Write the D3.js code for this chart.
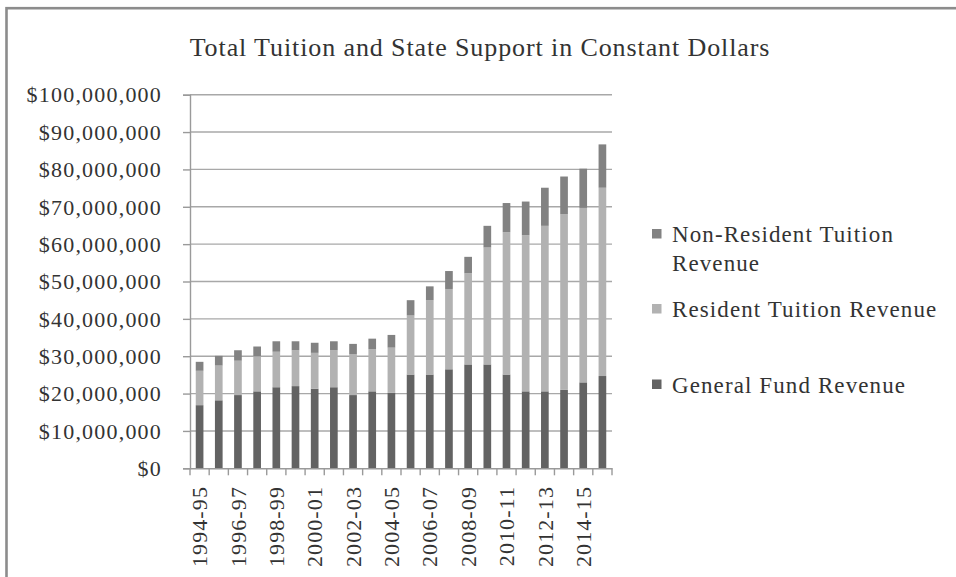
<!DOCTYPE html>
<html>
<head>
<meta charset="utf-8">
<script src="https://cdn.jsdelivr.net/npm/d3@7"></script>
<style>
  html, body { margin: 0; padding: 0; background: #fff; }
  svg { display: block; }
  text { font-family: "Liberation Serif", "Times New Roman", serif; fill: #333; }
</style>
</head>
<body>
<svg id="chart" width="956" height="577"></svg>
<script>
// Fiscal years shown on the category axis
const years = ["1994-95","1995-96","1996-97","1997-98","1998-99","1999-00","2000-01","2001-02",
  "2002-03","2003-04","2004-05","2005-06","2006-07","2007-08","2008-09","2009-10",
  "2010-11","2011-12","2012-13","2013-14","2014-15","2015-16"];

// Revenue by source, millions of constant dollars
const generalFund = [16.9,18.2,19.6,20.6,21.7,22.0,21.3,21.7,19.6,20.6,20.2,25.1,25.1,26.5,27.8,27.8,25.1,20.6,20.6,21.0,23.0,24.7];
const residentTuition = [9.2,9.3,9.2,9.4,9.5,9.6,9.6,9.9,10.9,11.3,12.1,15.8,19.9,21.5,24.4,31.3,38.1,41.8,44.3,47.0,46.7,50.4];
const nonResidentTuition = [2.4,2.6,2.8,2.6,2.8,2.4,2.7,2.4,2.8,2.8,3.4,4.1,3.7,4.8,4.4,5.8,7.8,9.0,10.2,10.1,10.5,11.6];

const yTicks = [0,10,20,30,40,50,60,70,80,90,100];

const seriesNames = ["General Fund Revenue","Resident Tuition Revenue","Non-Resident Tuition Revenue"];
const seriesColors = ["#636363","#b2b2b2","#828282"];

const svg = d3.select("#chart");

// chart frame
svg.append("rect")
  .attr("x", 6.5).attr("y", 8.2)
  .attr("width", 1000).attr("height", 1000)
  .attr("fill", "none").attr("stroke", "#8c8c8c").attr("stroke-width", 2.6);

svg.append("text")
  .attr("x", 480).attr("y", 56)
  .attr("text-anchor", "middle")
  .style("font-size", "26px").style("letter-spacing", "0.9px")
  .text("Total Tuition and State Support in Constant Dollars");

const plot = { left: 190, right: 612, top: 94.7, bottom: 468.3 };

const x = d3.scaleBand().domain(years)
  .range([plot.left, plot.right]).paddingInner(0.6).paddingOuter(0.3);
const y = d3.scaleLinear().domain([0, 100]).range([plot.bottom, plot.top]);

// horizontal gridlines
svg.append("g").selectAll("line").data(yTicks.filter(d => d > 0)).join("line")
  .attr("x1", plot.left).attr("x2", plot.right)
  .attr("y1", d => y(d)).attr("y2", d => y(d))
  .attr("stroke", "#a8a8a8").attr("stroke-width", 1.4);

// stacked bars
const rows = years.map((yr, i) => ({
  year: yr, g: generalFund[i], r: residentTuition[i], n: nonResidentTuition[i]
}));
const stack = d3.stack().keys(["g","r","n"])(rows);
svg.append("g").selectAll("g").data(stack).join("g")
  .attr("fill", (d, i) => seriesColors[i])
  .selectAll("rect").data(d => d).join("rect")
  .attr("x", d => x(d.data.year))
  .attr("width", x.bandwidth())
  .attr("y", d => y(d[1]))
  .attr("height", d => y(d[0]) - y(d[1]));

// value axis
const fmt = d => "$" + d3.format(",")(d * 1000000);
const yAxis = svg.append("g")
  .attr("transform", `translate(${plot.left},0)`)
  .call(d3.axisLeft(y).tickValues(yTicks).tickSize(7).tickPadding(21).tickFormat(fmt));
yAxis.select(".domain").attr("stroke", "#9a9a9a").attr("stroke-width", 1.4);
yAxis.selectAll(".tick line").attr("stroke", "#9a9a9a").attr("stroke-width", 1.4);
yAxis.selectAll(".tick text")
  .attr("fill", "#333").attr("dy", "0.33em")
  .style("font-size", "22px").style("letter-spacing", "1.2px")
  .style("font-family", "'Liberation Serif', serif");

// category axis
const xAxis = svg.append("g")
  .attr("transform", `translate(0,${plot.bottom})`)
  .call(d3.axisBottom(x).tickSize(0).tickFormat(""));
xAxis.select(".domain").attr("stroke", "#9a9a9a").attr("stroke-width", 1.4);
xAxis.selectAll(".tick line").remove();
const step = x.step();
const bounds = d3.range(years.length + 1).map(i => plot.left + i * step);
xAxis.append("g").selectAll("line").data(bounds).join("line")
  .attr("x1", d => d).attr("x2", d => d).attr("y1", 0).attr("y2", 7)
  .attr("stroke", "#9a9a9a").attr("stroke-width", 1.4);

svg.append("g").selectAll("text")
  .data(years.filter((d, i) => i % 2 === 0)).join("text")
  .attr("transform", d => `translate(${x(d) + x.bandwidth() / 2},486) rotate(-90)`)
  .attr("text-anchor", "end").attr("dy", "0.35em")
  .style("font-size", "22px").style("letter-spacing", "1.1px")
  .text(d => d);

// legend, listed top-down in stack order from the top
const legendItems = [
  { i: 2, lines: ["Non-Resident Tuition", "Revenue"], base: 242 },
  { i: 1, lines: ["Resident Tuition Revenue"], base: 317 },
  { i: 0, lines: ["General Fund Revenue"], base: 392.5 }
];
const legend = svg.append("g");
legendItems.forEach(item => {
  legend.append("rect")
    .attr("x", 652).attr("y", item.base - 13).attr("width", 9.5).attr("height", 9.5)
    .attr("fill", seriesColors[item.i]);
  const t = legend.append("text")
    .attr("x", 672).attr("y", item.base)
    .style("font-size", "23px").style("letter-spacing", "1.1px");
  item.lines.forEach((ln, k) => {
    t.append("tspan").attr("x", 672).attr("dy", k === 0 ? 0 : 29).text(ln);
  });
});
</script>
</body>
</html>
